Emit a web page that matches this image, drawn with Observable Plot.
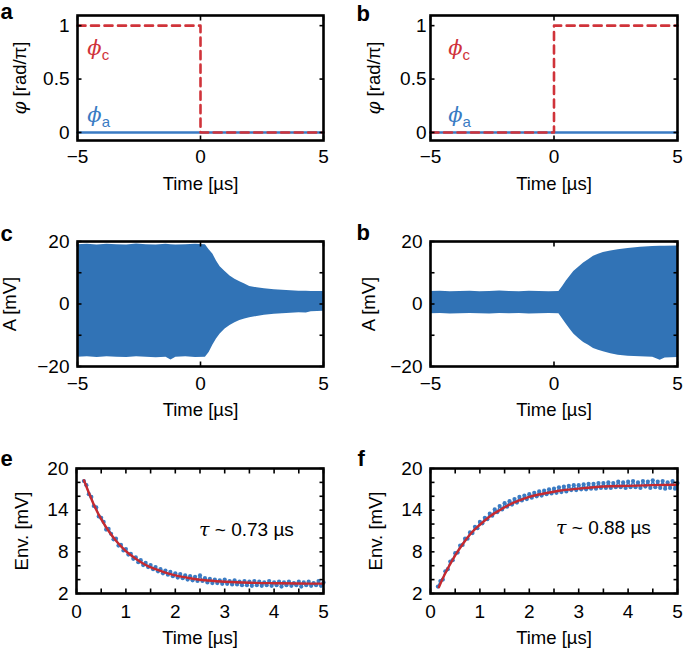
<!DOCTYPE html>
<html><head><meta charset="utf-8">
<script src="https://cdn.jsdelivr.net/npm/d3@7"></script>
<script src="https://cdn.jsdelivr.net/npm/@observablehq/plot@0.6"></script>
<style>
body{margin:0;background:#fff;}
#fig{position:relative;width:685px;height:651px;overflow:hidden;background:#fff;}
.panel{position:absolute;}
</style></head><body><div id="fig"></div>
<script>
// ---------- data ----------
// panels a / b : phase steps
const phaseTimeA = [-5, 5];
const phaseValA = [0, 0];
const phaseTimeC = [-5, 0, 0, 5];
const phaseValC_a = [1, 1, 0, 0];
const phaseValC_b = [0, 0, 1, 1];
const phiLabels = ["ϕc", "ϕa"];
const phiLabelY = [0.79, 0.16];
const phiLabelX_a = [-4.6, -4.6];
const phiLabelX_b = [-4.28, -4.28];

// panels c / d : amplitude envelopes of the oscillation
const ampTime = [-5,-4.6,-4.2,-3.8,-3.4,-3.0,-2.6,-2.2,-1.8,-1.4,-1.2,-1.0,-0.6,-0.2,0.2,0.35,0.5,0.65,0.8,1.0,1.2,1.4,1.6,1.8,2.0,2.3,2.6,3.0,3.5,4.0,4.3,4.5,5.0];
const cHi = [19.0,19.1,18.9,19.1,19.0,18.9,19.2,19.0,18.9,19.1,19.0,18.9,19.0,19.1,19.0,17.4,16.0,13.8,11.9,10.4,9.0,7.9,7.1,6.4,5.6,5.2,4.9,4.6,4.3,4.1,4.1,4.0,4.0];
const cLo = [-17.0,-16.9,-17.1,-16.9,-17.0,-17.1,-16.9,-17.0,-17.2,-17.0,-17.9,-17.0,-16.9,-17.1,-17.0,-15.5,-13.2,-11.2,-9.6,-8.0,-6.9,-6.0,-5.3,-4.8,-4.4,-4.0,-3.6,-3.3,-3.0,-2.8,-2.9,-2.5,-2.3];
const dHi = [4.0,4.1,3.9,4.0,4.1,3.9,4.0,4.2,4.0,3.9,4.0,4.1,4.0,3.9,4.0,5.6,7.4,8.9,10.4,11.8,13.1,14.2,15.3,15.9,16.5,17.0,17.4,17.8,18.2,18.4,18.5,18.5,18.6];
const dLo = [-3.1,-3.0,-3.2,-3.1,-3.0,-3.1,-3.2,-3.0,-3.1,-3.0,-3.1,-3.2,-3.1,-3.0,-3.1,-4.8,-6.5,-8.1,-9.6,-11.0,-12.3,-13.2,-14.2,-14.8,-15.3,-15.9,-16.4,-16.7,-16.9,-17.0,-18.0,-17.3,-17.1];

// panels e / f : measured envelope (points) and exponential fit
const envTime = [0.15,0.2,0.25,0.3,0.35,0.4,0.45,0.5,0.55,0.6,0.65,0.7,0.75,0.8,0.85,0.9,0.95,1.0,1.05,1.1,1.15,1.2,1.25,1.3,1.35,1.4,1.45,1.5,1.55,1.6,1.65,1.7,1.75,1.8,1.85,1.9,1.95,2.0,2.05,2.1,2.15,2.2,2.25,2.3,2.35,2.4,2.45,2.5,2.55,2.6,2.65,2.7,2.75,2.8,2.85,2.9,2.95,3.0,3.05,3.1,3.15,3.2,3.25,3.3,3.35,3.4,3.45,3.5,3.55,3.6,3.65,3.7,3.75,3.8,3.85,3.9,3.95,4.0,4.05,4.1,4.15,4.2,4.25,4.3,4.35,4.4,4.45,4.5,4.55,4.6,4.65,4.7,4.75,4.8,4.85,4.9,4.95,5.0];
const eEnv = [18.2,17.6,16.3,15.9,14.6,14.4,13.1,12.9,12.3,11.2,11.3,10.6,9.8,9.9,8.9,9.0,8.2,8.4,7.6,7.7,7.0,7.2,6.5,6.8,6.1,6.4,5.8,6.1,5.5,5.8,5.2,5.5,4.9,5.3,4.7,5.1,4.5,4.9,4.3,4.8,4.2,4.6,4.0,4.5,3.9,4.4,3.8,4.6,3.8,4.2,3.6,4.1,3.5,4.0,3.5,3.9,3.4,4.0,3.4,3.8,3.3,3.9,3.3,3.7,3.2,3.8,3.2,3.7,3.1,3.8,3.2,3.7,3.1,3.6,3.2,3.8,3.1,3.6,3.2,3.7,3.0,3.6,3.2,3.7,3.1,3.5,3.2,3.7,3.0,3.6,3.2,3.7,3.1,3.5,3.2,3.8,3.1,3.6];
const fEnv = [3.0,3.8,4.0,5.2,5.5,6.6,6.8,7.8,7.9,8.9,9.0,9.9,9.9,10.8,10.7,11.6,11.4,12.3,12.1,12.9,12.7,13.5,13.2,14.1,13.7,14.6,14.1,15.0,14.5,15.3,14.8,15.6,15.1,15.9,15.4,16.1,15.6,16.3,15.8,16.5,16.0,16.7,16.1,16.8,16.3,17.0,16.4,17.1,16.5,17.3,16.6,17.4,16.7,17.5,16.9,17.6,16.9,17.6,17.0,17.7,17.0,17.8,17.1,17.8,17.1,17.9,17.2,17.9,17.2,18.0,17.2,17.9,17.3,18.1,17.3,18.0,17.2,18.1,17.3,18.2,17.3,18.0,17.2,18.2,17.4,18.1,17.2,18.3,17.3,18.1,17.2,18.2,17.1,18.0,17.2,18.2,17.1,17.9];
const eFitTime = [0.15,0.25,0.35,0.5,0.65,0.8,1.0,1.2,1.4,1.6,1.8,2.0,2.3,2.6,3.0,3.5,4.0,4.5,5.0];
const eFit = [18.3,16.5,14.8,12.7,11.0,9.6,8.1,7.0,6.1,5.5,5.0,4.6,4.2,3.9,3.7,3.55,3.48,3.44,3.42];
const fFitTime = [0.17,0.25,0.35,0.5,0.65,0.8,1.0,1.2,1.4,1.6,1.8,2.0,2.3,2.6,3.0,3.5,4.0,4.5,5.0];
const fFit = [2.9,4.2,5.6,7.5,9.1,10.5,11.9,13.1,14.0,14.8,15.4,15.9,16.4,16.8,17.1,17.4,17.5,17.6,17.65];
const tauLabels = ["τ ~ 0.73 µs", "τ ~ 0.88 µs"];
const tauX = [3.44, 3.5];
const tauY = [11.2, 11.4];

// ticks
const timeTicks = [-5, 0, 5];
const phaseTicks = [0, 0.5, 1];
const ampTicks = [-20, 0, 20];
const ampMinor = [-10, 10];
const envXTicks = [0, 1, 2, 3, 4, 5];
const envXMinor = [0.5, 1.5, 2.5, 3.5, 4.5];
const envYTicks = [2, 8, 14, 20];
const envYMinor = [4, 6, 10, 12, 16, 18];

// ---------- style ----------
const FONT = '"Liberation Sans", Arial, Helvetica, sans-serif';
const BLUE_AREA = "#3173b6";
const BLUE = "#3a7bc3";
const RED = "#c62a30";
const DRED = "#d0333a";
const TICK_FS = 19, LABEL_FS = 18.5;

function table(obj) {
  const keys = Object.keys(obj);
  return obj[keys[0]].map((_, i) => Object.fromEntries(keys.map(k => [k, obj[k][i]])));
}
const fmt = d => String(d).replace("-", "\u2212");
const blank = () => "";

function panel(cfg) {
  const [bl, bt, bw, bh] = cfg.box;
  const [fl, ft, fr, fb] = cfg.frame;
  const mL = fl - bl, mT = ft - bt, mR = bl + bw - fr, mB = bt + bh - fb;
  const allX = cfg.xTicks.concat(cfg.xMinor || []);
  const allY = cfg.yTicks.concat(cfg.yMinor || []);
  const tk = {tickSize: -4.5, strokeWidth: 1.6, stroke: "#000", tickFormat: blank, label: null};
  const svg = Plot.plot({
    width: bw, height: bh,
    marginLeft: mL, marginRight: mR, marginTop: mT, marginBottom: mB,
    x: {domain: cfg.xDomain, axis: null},
    y: {domain: cfg.yDomain, axis: null},
    style: {fontFamily: FONT, fontSize: "18px", color: "#000", background: "transparent", overflow: "visible"},
    marks: [
      ...cfg.marks,
      Plot.axisX({anchor: "bottom", ticks: allX, ...tk}),
      Plot.axisX({anchor: "top", ticks: allX, ...tk}),
      Plot.axisY({anchor: "left", ticks: allY, ...tk}),
      Plot.axisY({anchor: "right", ticks: allY, ...tk}),
      Plot.axisX({anchor: "bottom", ticks: cfg.xTicks, tickSize: 0, tickPadding: cfg.xPad, tickFormat: fmt, fontSize: TICK_FS, label: null}),
      Plot.axisY({anchor: "left", ticks: cfg.yTicks, tickSize: 0, tickPadding: cfg.yPad, tickFormat: fmt, fontSize: TICK_FS, label: null}),
      Plot.text(["Time [µs]"], {text: d => d, frameAnchor: "bottom", textAnchor: "middle", lineAnchor: "middle", dy: cfg.xLabelDy, fontSize: LABEL_FS, fill: "#000"}),
      Plot.text([cfg.yLabel], {text: d => d, frameAnchor: "left", textAnchor: "middle", lineAnchor: "middle", dx: cfg.yLabelX - fl, rotate: -90, fontSize: LABEL_FS, fill: "#000"}),
      Plot.text([cfg.letter], {text: d => d, frameAnchor: "top-left", textAnchor: "start", lineAnchor: "middle", dx: cfg.letterPos[0] - fl, dy: cfg.letterPos[1] - 7 - ft, fontSize: 22, fontWeight: "bold", fill: "#000"}),
      Plot.frame({stroke: "#000", strokeWidth: 2.6})
    ]
  });
  d3.select(svg).selectAll("text").each(function () {
    const t = this.textContent;
    const s = d3.select(this);
    if (t === "ϕc" || t === "ϕa") {
      s.text("");
      s.append("tspan").attr("font-family", '"DejaVu Serif", serif').attr("font-style", "italic").text("ϕ");
      s.append("tspan").attr("font-size", 15).attr("dy", 5).text(t[1]);
    } else if (t.startsWith("τ")) {
      s.text("");
      s.append("tspan").attr("font-family", '"DejaVu Serif", serif').attr("font-style", "italic").text("τ");
      s.append("tspan").text(t.slice(1));
    } else if (t.startsWith("φ")) {
      s.text("");
      s.append("tspan").attr("font-family", '"DejaVu Serif", serif').attr("font-style", "italic").text("φ");
      s.append("tspan").text(t.slice(1));
    }
  });
  const div = document.createElement("div");
  div.className = "panel";
  div.style.left = bl + "px"; div.style.top = bt + "px";
  div.appendChild(svg);
  document.getElementById("fig").appendChild(div);
}

function phasePanel(box, frame, letter, letterPos, redVals, labelX, yPad, yLabelX) {
  const blue = table({t: phaseTimeA, v: phaseValA});
  const red = table({t: phaseTimeC, v: redVals});
  const labs = table({t: labelX, v: phiLabelY, s: phiLabels});
  panel({
    box, frame, letter, letterPos,
    xDomain: [-5, 5], yDomain: [-0.075, 1.095],
    xTicks: timeTicks, yTicks: phaseTicks,
    xPad: 9, yPad, xLabelDy: 43.5,
    yLabel: "φ [rad/π]", yLabelX,
    marks: [
      Plot.line(blue, {x: "t", y: "v", stroke: BLUE, strokeWidth: 2.6}),
      Plot.line(red, {x: "t", y: "v", stroke: DRED, strokeWidth: 2.6, strokeDasharray: "8,5.5"}),
      Plot.text(labs, {x: "t", y: "v", text: "s", textAnchor: "start", fontSize: 21, fill: (d, i) => i === 0 ? DRED : BLUE})
    ]
  });
}

function ampPanel(box, frame, letter, letterPos, hi, lo, yLabelX) {
  const data = table({t: ampTime, hi, lo});
  panel({
    box, frame, letter, letterPos,
    xDomain: [-5, 5], yDomain: [-20, 20],
    xTicks: timeTicks, yTicks: ampTicks, yMinor: ampMinor,
    xPad: 10, yPad: 8, xLabelDy: 44,
    yLabel: "A [mV]", yLabelX,
    marks: [
      Plot.areaY(data, {x: "t", y1: "lo", y2: "hi", fill: BLUE_AREA, curve: "linear"})
    ]
  });
}

function envPanel(box, frame, letter, letterPos, env, fitT, fit, k, yLabelX) {
  const pts = table({t: envTime, v: env});
  const fitData = table({t: fitT, v: fit});
  panel({
    box, frame, letter, letterPos,
    xDomain: [0, 5], yDomain: [2, 20],
    xTicks: envXTicks, xMinor: envXMinor, yTicks: envYTicks, yMinor: envYMinor,
    xPad: 11, yPad: 8, xLabelDy: 45,
    yLabel: "Env. [mV]", yLabelX,
    marks: [
      Plot.line(pts, {x: "t", y: "v", stroke: BLUE, strokeWidth: 1.6}),
      Plot.dot(pts, {x: "t", y: "v", r: 2.1, fill: BLUE}),
      Plot.line(fitData, {x: "t", y: "v", stroke: RED, strokeWidth: 2.4, curve: "monotone-x"}),
      Plot.text([tauLabels[k]], {x: [tauX[k]], y: [tauY[k]], text: d => d, fontSize: 19, fill: "#000"})
    ]
  });
}

phasePanel([0, 0, 340, 200], [77, 15, 323, 140], "a", [0, 18], phaseValC_a, phiLabelX_a, 8, 20);
phasePanel([340, 0, 345, 200], [430, 15, 677, 140], "b", [356, 20], phaseValC_b, phiLabelX_b, 4, 374);
ampPanel([0, 200, 340, 226], [77, 241, 323, 366], "c", [0, 240], cHi, cLo, 10);
ampPanel([340, 200, 345, 226], [430, 241, 677, 366], "b", [356, 239], dHi, dLo, 369);
envPanel([0, 426, 340, 225], [76, 468, 323, 593], "e", [0, 465], eEnv, eFitTime, eFit, 0, 22);
envPanel([340, 426, 345, 225], [430, 468, 677, 593], "f", [357, 465], fEnv, fFitTime, fFit, 1, 376);
</script>
</body></html>
